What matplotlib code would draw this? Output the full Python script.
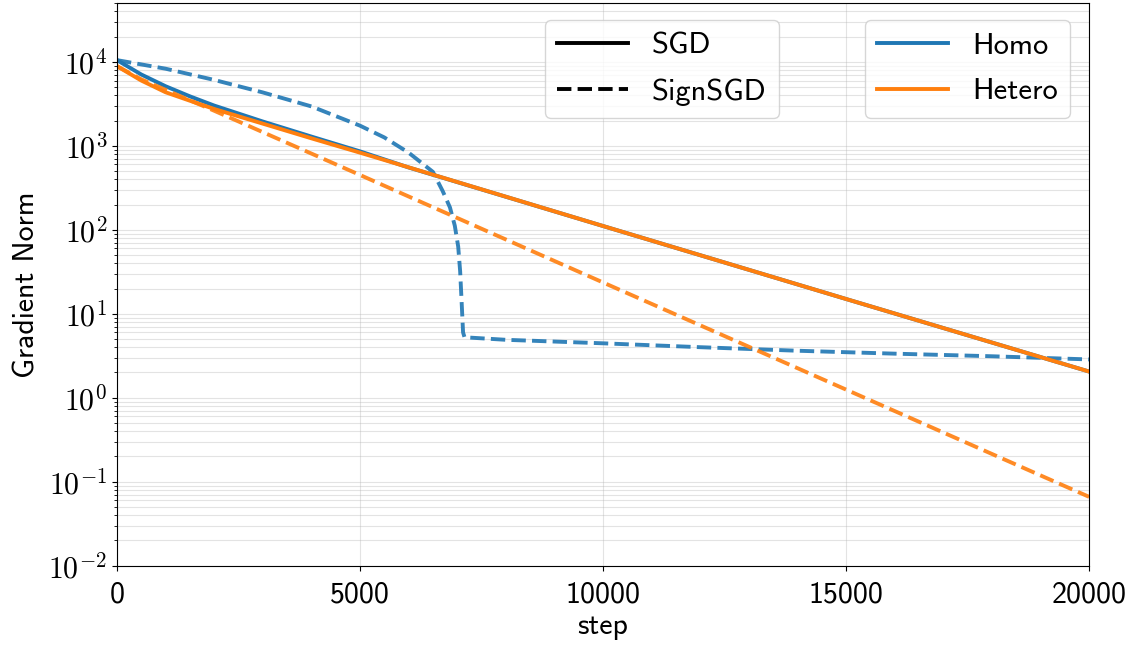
import numpy as np
import matplotlib
matplotlib.use("Agg")
import matplotlib.pyplot as plt
from matplotlib.lines import Line2D
from matplotlib.ticker import LogLocator, NullFormatter, FuncFormatter

# Gradient norm logged during training (read at selected steps)
homo_sgd_steps = [0, 500, 1000, 1500, 2000, 3000, 4000, 5000, 6000, 10000, 15000, 20000]
homo_sgd_norm = [10500, 7080, 5130, 3890, 3020, 1950, 1290, 860, 553, 111, 15.0, 2.05]

homo_sign_steps = [0, 1000, 2000, 3000, 4000, 5000, 5500, 6000, 6500, 6700, 6850, 6950,
                   7020, 7060, 7090, 7120, 7150, 8000, 10000, 12000, 14000, 16000, 18000, 20000]
homo_sign_norm = [10500, 8300, 6100, 4330, 2950, 1740, 1260, 830, 490, 290, 185, 112,
                  63, 32, 14, 6.0, 5.25, 4.9, 4.45, 4.0, 3.63, 3.35, 3.12, 2.86]

hetero_sgd_steps = [0, 500, 1000, 1500, 2000, 3000, 4000, 5000, 10000, 15000, 20000]
hetero_sgd_norm = [8900, 6000, 4350, 3450, 2750, 1840, 1230, 830, 111, 15.0, 2.05]

hetero_sign_steps = [0, 500, 1000, 2000, 5000, 10000, 15000, 20000]
hetero_sign_norm = [8900, 6200, 4650, 2620, 450, 23.6, 1.25, 0.066]

y_decades = [1e-2, 1e-1, 1e0, 1e1, 1e2, 1e3, 1e4]

BLUE = "#1f77b4"
ORANGE = "#ff7f0e"

plt.rcParams.update({
    "font.family": ["cmss10", "DejaVu Sans"],
    "mathtext.fontset": "cm",
    "font.size": 21.5,
})

fig = plt.figure(figsize=(11.27, 6.45), dpi=100)
ax = fig.add_axes([0.1038, 0.123, 0.8626, 0.872])

lw = 2.8
ax.plot(homo_sgd_steps, homo_sgd_norm, color=BLUE, lw=lw, linestyle="-")
ax.plot(homo_sign_steps, homo_sign_norm, color=BLUE, lw=lw, linestyle="--", alpha=0.9)
ax.plot(hetero_sgd_steps, hetero_sgd_norm, color=ORANGE, lw=lw, linestyle="-")
ax.plot(hetero_sign_steps, hetero_sign_norm, color=ORANGE, lw=lw, linestyle="--", alpha=0.9)

ax.set_yscale("log")
ax.set_xlim(0, 20000)
ax.set_ylim(1e-2, 5e4)
ax.set_xticks([0, 5000, 10000, 15000, 20000])
ax.set_yticks(y_decades)
ax.yaxis.set_minor_locator(LogLocator(base=10, subs=np.arange(2, 10), numticks=20))
ax.yaxis.set_minor_formatter(NullFormatter())
# decade labels in the serif math font
ax.yaxis.set_major_formatter(FuncFormatter(lambda v, pos: r"$10^{%d}$" % round(np.log10(v))))
ax.tick_params(axis="x", pad=8)

ax.grid(True, which="both", color="#b0b0b0", alpha=0.35, lw=0.8)
ax.set_axisbelow(True)

ax.set_xlabel("step", labelpad=3)
ax.set_ylabel("Gradient Norm", labelpad=6)

# one legend for the optimizer (line style), one for the data split (colour)
legend_kw = dict(borderaxespad=0, handlelength=2.3, handletextpad=0.8,
                 labelspacing=0.6, fontsize=22)
style_handles = [Line2D([], [], color="black", lw=lw, linestyle="-"),
                 Line2D([], [], color="black", lw=lw, linestyle="--")]
leg1 = ax.legend(style_handles, ["SGD", "SignSGD"], loc="upper left",
                 bbox_to_anchor=(0.4403, 0.970), **legend_kw)
ax.add_artist(leg1)

color_handles = [Line2D([], [], color=BLUE, lw=lw),
                 Line2D([], [], color=ORANGE, lw=lw)]
ax.legend(color_handles, ["Homo", "Hetero"], loc="upper right",
          bbox_to_anchor=(0.9805, 0.970), **legend_kw)

fig.savefig("out.png", dpi=100)
